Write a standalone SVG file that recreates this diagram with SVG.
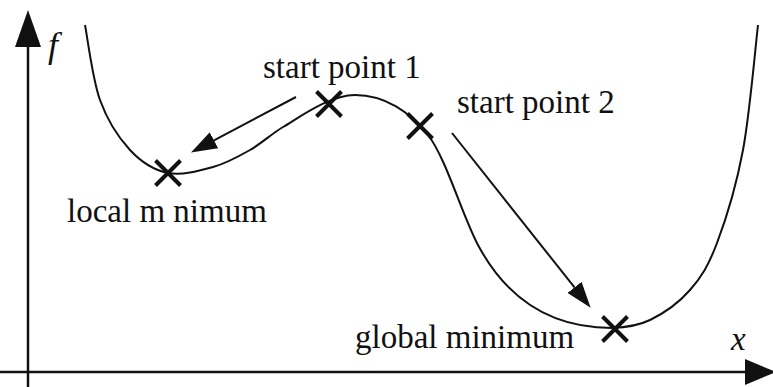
<svg xmlns="http://www.w3.org/2000/svg" xmlns:xlink="http://www.w3.org/1999/xlink" width="773" height="387" viewBox="0 0 773 387">
  <style>
    .label { font-size: 33px; fill: #111; }
    .var { font-style: italic; fill: #111; }
    .axis { stroke: #111; stroke-width: 2.5; fill: none; }
    .curve { stroke: #111; stroke-width: 2; fill: none; }
    .step { stroke: #111; stroke-width: 2; fill: none; marker-end: url(#head); }
    .mark { stroke: #111; stroke-width: 4; fill: none; }
  </style>
  <defs>
    <marker id="head" markerUnits="userSpaceOnUse" markerWidth="26" markerHeight="18" viewBox="0 0 26 18" refX="0" refY="9" orient="auto">
      <path d="M0,0 L26,9 L0,18 z" fill="#111"/>
    </marker>
    <path id="cross" d="M-12.5,-12.5 L12.5,12.5 M12.5,-12.5 L-12.5,12.5"/>
  </defs>

  <rect width="773" height="387" fill="#fff"/>

  <g font-family="Liberation Serif, DejaVu Serif, serif">
    <!-- axes -->
    <g id="axes">
      <line class="axis" x1="28" y1="387" x2="28" y2="46"/>
      <polygon points="28,10 15,47 41,47" fill="#111"/>
      <line class="axis" x1="0" y1="372" x2="746" y2="372"/>
      <polygon points="776,372 745,359 745,385" fill="#111"/>
      <text class="var" x="48" y="57" font-size="36">f</text>
      <text class="var" x="731" y="350" font-size="33">x</text>
    </g>

    <!-- objective function -->
    <g id="function">
      <path class="curve" d="M85,25 C87.5,37.5 92.5,79.2 100,100 C107.5,120.8 118.7,137.8 130,150 C141.3,162.2 154.2,170.2 168,173 C181.8,175.8 199.3,170.8 213,167 C226.7,163.2 238.3,156.7 250,150 C261.7,143.3 271.8,133.7 283,127 C300,117 330,95 355,95 C385,95 410,112 428,135 C446,158 462,215 478,245 C494,275 530,328 612,328 C625.3,327.5 637,326.3 650,320 C663,313.7 678.8,302.8 690,290 C701.2,277.2 708.2,266.3 717,243 C725.8,219.7 736.2,186.3 743,150 C749.8,113.7 755.5,45.8 758,25"/>
    </g>

    <!-- points -->
    <g id="local-minimum">
      <use xlink:href="#cross" class="mark" x="168" y="173"/>
      <text class="label" x="67" y="222">local m nimum</text>
    </g>
    <g id="start-point-1">
      <use xlink:href="#cross" class="mark" x="329" y="104"/>
      <text class="label" x="263" y="78">start point 1</text>
    </g>
    <g id="start-point-2">
      <use xlink:href="#cross" class="mark" x="420" y="126"/>
      <text class="label" x="457" y="113">start point 2</text>
    </g>
    <g id="global-minimum">
      <use xlink:href="#cross" class="mark" x="615" y="329"/>
      <text class="label" x="355" y="348">global minimum</text>
    </g>

    <!-- descent directions -->
    <g id="connectors">
      <line class="step" x1="296" y1="97" x2="214" y2="140.3"/>
      <line class="step" x1="452" y1="133" x2="574.5" y2="287.4"/>
    </g>
  </g>
</svg>
